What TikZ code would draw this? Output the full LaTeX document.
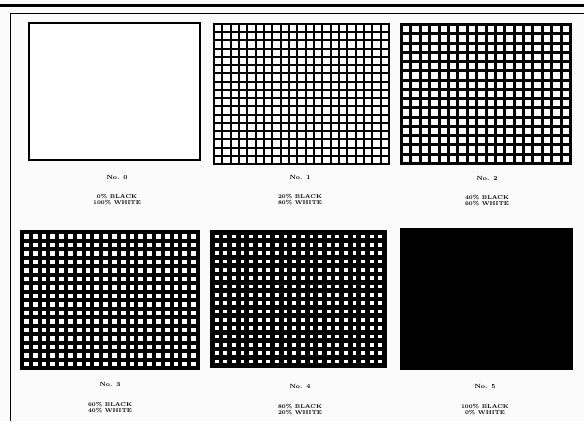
\documentclass[tikz,border=0pt]{standalone}
\newcommand\screenbox[7]{%
 \fill[black] (#1,#2) rectangle (#3,#4);
 \pgfmathsetmacro\hw{((#3)-(#1)-(#5+1)*(#7))/#5}
 \pgfmathsetmacro\hh{((#4)-(#2)-(#6+1)*(#7))/#6}
 \pgfmathtruncatemacro\nxm{#5-1}
 \pgfmathtruncatemacro\nym{#6-1}
 \foreach \i in {0,...,\nxm}{\foreach \j in {0,...,\nym}{
   \fill[white] ({#1+#7+\i*(\hw+#7)},{#2+#7+\j*(\hh+#7)}) rectangle ++(\hw,\hh);}}%
}
\begin{document}
\begin{tikzpicture}[x=1pt,y=-1pt,
  numlbl/.style={font=\fontsize{6}{7}\selectfont\bfseries},
  pctlbl/.style={font=\fontsize{5.6}{6}\selectfont\bfseries,align=center}]
\useasboundingbox (0,0) rectangle (584,421);
\fill[gray!3] (0,0) rectangle (584,421);
\draw[line width=3pt] (0,5) -- (584,5);
\draw[line width=1pt] (10,421) -- (10,13) -- (584,13);
% No. 0
\fill[white] (29,23) rectangle (200,160);
\draw[line width=1.6pt] (29,23) rectangle (200,160);
% No. 1 - 5
\screenbox{213}{23}{390}{165}{21}{17}{2}
\screenbox{400}{23}{572}{165}{18}{15}{3}
\screenbox{20}{230}{200}{370}{20}{16}{4}
\screenbox{210}{230}{387}{368}{20}{16}{4.8}
\fill[black] (400,228) rectangle (573,370);
% labels
\node[numlbl] (n0) at (117,177) {No. 0};
\node[pctlbl] (p0) at (117,200) {0\% BLACK\\100\% WHITE};
\node[numlbl] (n1) at (300,177) {No. 1};
\node[pctlbl] (p1) at (300,200) {20\% BLACK\\80\% WHITE};
\node[numlbl] (n2) at (487,178) {No. 2};
\node[pctlbl] (p2) at (487,201) {40\% BLACK\\60\% WHITE};
\node[numlbl] (n3) at (110,384) {No. 3};
\node[pctlbl] (p3) at (110,408) {60\% BLACK\\40\% WHITE};
\node[numlbl] (n4) at (300,386) {No. 4};
\node[pctlbl] (p4) at (300,410) {80\% BLACK\\20\% WHITE};
\node[numlbl] (n5) at (485,386) {No. 5};
\node[pctlbl] (p5) at (485,410) {100\% BLACK\\0\% WHITE};
\end{tikzpicture}
\end{document}
